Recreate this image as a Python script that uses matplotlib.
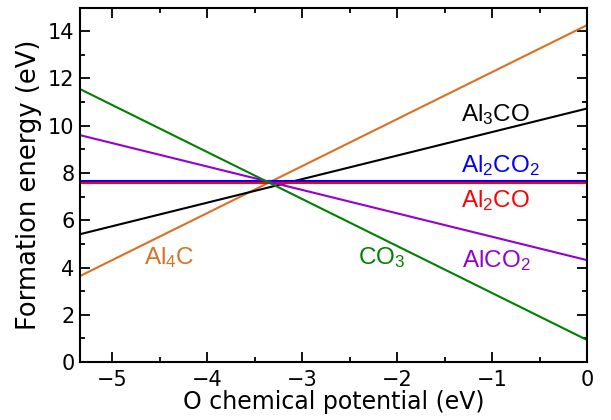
import matplotlib
matplotlib.use("Agg")
import matplotlib.pyplot as plt
from matplotlib.ticker import MultipleLocator

plt.rcParams['font.family'] = ['DejaVu Sans']
plt.rcParams['mathtext.fontset'] = 'custom'
plt.rcParams['mathtext.rm'] = 'Liberation Sans'
plt.rcParams['mathtext.it'] = 'Liberation Sans'
plt.rcParams['mathtext.default'] = 'rm'

mu_O = [-5.34, 0.0]
E_Al4C = [3.64, 14.26]
E_Al3CO = [5.41, 10.73]
E_Al2CO2 = [7.68, 7.68]
E_Al2CO = [7.56, 7.56]
E_AlCO2 = [9.60, 4.31]
E_CO3 = [11.55, 0.93]

names = ['Al$_4$C', 'Al$_3$CO', 'Al$_2$CO$_2$', 'Al$_2$CO', 'AlCO$_2$', 'CO$_3$']
series = [E_Al4C, E_Al3CO, E_Al2CO2, E_Al2CO, E_AlCO2, E_CO3]
colors = ['#dd6f22', '#000000', '#0000ff', '#ff0000', '#9400d3', '#008000']
label_xy = [(-4.67, 4.15), (-1.33, 10.2), (-1.33, 8.05), (-1.33, 6.57), (-1.32, 4.03), (-2.41, 4.15)]

fig = plt.figure(figsize=(6.11, 4.2), dpi=100)
ax = fig.add_axes([0.131, 0.138, 0.830, 0.844])

for e, c in zip(series, colors):
    ax.plot(mu_O, e, color=c, lw=1.5, solid_capstyle='butt')

for n, (x, y), c in zip(names, label_xy, colors):
    ax.text(x, y, n, color=c, fontsize=17.5, ha='left', va='baseline',
            family=['Liberation Sans', 'DejaVu Sans'])

ax.set_xlim(-5.34, 0)
ax.set_ylim(0, 15)
ax.xaxis.set_major_locator(MultipleLocator(1))
ax.xaxis.set_minor_locator(MultipleLocator(0.5))
ax.yaxis.set_minor_locator(MultipleLocator(1))
ax.set_yticks(range(0, 15, 2))
ax.tick_params(which='both', direction='in', top=True, right=True, width=1.3, labelsize=15)
ax.tick_params(which='major', length=7)
ax.tick_params(which='minor', length=3.8)
ax.tick_params(axis='x', pad=6)
ax.tick_params(axis='y', pad=4)
for s in ax.spines.values():
    s.set_linewidth(1.5)

ax.set_xlabel('O chemical potential (eV)', fontsize=17, labelpad=0)
ax.set_ylabel('Formation energy (eV)', fontsize=18.5, labelpad=4)

fig.savefig('out.png', dpi=100)
